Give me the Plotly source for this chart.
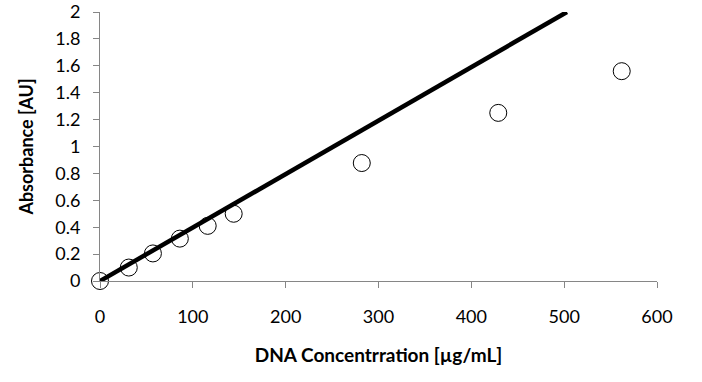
import plotly.graph_objects as go

conc = [0, 31, 57, 86, 116, 144, 282, 429, 562]
absorb = [0.0, 0.1, 0.205, 0.315, 0.41, 0.5, 0.877, 1.25, 1.56]
fit_x = [0, 503]
fit_y = [0, 2.0]
x_ticks = [0, 100, 200, 300, 400, 500, 600]
y_ticks = [0, 0.2, 0.4, 0.6, 0.8, 1, 1.2, 1.4, 1.6, 1.8, 2]

FONT = "Lato, 'Open Sans', sans-serif"

fig = go.Figure()
fig.add_trace(go.Scatter(x=fit_x, y=fit_y, mode="lines",
                         line=dict(color="black", width=4.5), showlegend=False))
fig.add_trace(go.Scatter(x=conc, y=absorb, mode="markers",
                         marker=dict(symbol="circle-open", size=17, color="black",
                                     line=dict(width=1, color="black")),
                         cliponaxis=False, showlegend=False))

fig.update_layout(
    width=702, height=382,
    margin=dict(l=100, r=45, t=12, b=101, autoexpand=False),
    plot_bgcolor="white", paper_bgcolor="white",
    font=dict(family=FONT, size=18, color="#000000"),
    hovermode=False,
)
fig.update_xaxes(range=[0, 600], tickvals=x_ticks, ticktext=[str(v) for v in x_ticks],
                 showgrid=False, zeroline=False, showline=True, linecolor="#868686",
                 linewidth=1, ticks="outside", ticklen=6, tickcolor="#868686",
                 tickfont=dict(size=18), ticklabelstandoff=13, automargin=False,
                 title=dict(text="<b>DNA Concentrration [µg/mL]</b>", font=dict(size=19), standoff=23))
fig.update_yaxes(range=[0, 2], tickvals=y_ticks, ticktext=[f"{v:g}" for v in y_ticks],
                 showgrid=False, zeroline=False, showline=True, linecolor="#868686",
                 linewidth=1, ticks="outside", ticklen=6, tickcolor="#868686",
                 tickfont=dict(size=18), ticklabelstandoff=9, automargin=False,
                 title=dict(text="<b>Absorbance [AU]</b>", font=dict(size=18), standoff=16))

fig.write_html("out.html", config={"displayModeBar": False, "staticPlot": True},
               post_script="document.body.style.margin='0';document.body.style.overflow='hidden';")
